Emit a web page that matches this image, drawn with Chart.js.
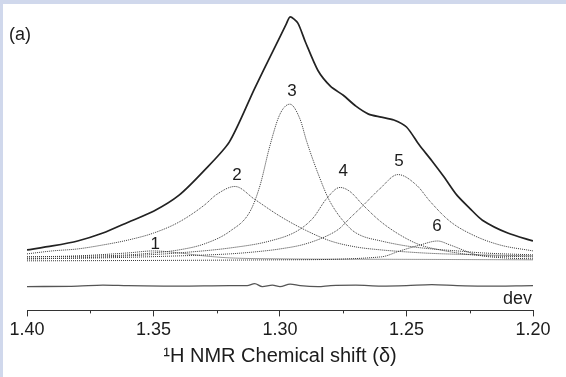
<!DOCTYPE html>
<html><head><meta charset="utf-8">
<script src="https://cdn.jsdelivr.net/npm/chart.js@4"></script>
<style>html,body{margin:0;padding:0;background:#fff;overflow:hidden}
#wrap{position:absolute;left:0;top:0;width:566px;height:377px}</style>
</head><body><div id="wrap"><canvas id="c" width="566" height="377"></canvas></div>
<script>
// ---- data (chemical shift δ, intensity a.u.) ----
const mainX = [1.40,1.39,1.38,1.37,1.36,1.35,1.34,1.33,1.32,1.31,1.3025,1.2975,1.296,1.293,1.29,1.285,1.28,1.275,1.27,1.265,1.26,1.255,1.25,1.245,1.24,1.235,1.23,1.225,1.22,1.21,1.20];
const mainY = [11,15,20,28,39,50,66,91,120,174,213,239,246,240,221,192,176,167,156,148,145,142,135,117,101,84,66,53,41,28,20];

const comp1X = [1.40,1.38,1.36,1.35,1.34,1.33,1.32,1.30,1.25,1.20];
const comp1Y = [4,5,8,10,8,5,3,2,1.5,1];

const comp2X = [1.40,1.39,1.38,1.37,1.36,1.35,1.34,1.33,1.325,1.3178,1.31,1.30,1.29,1.28,1.27,1.26,1.25,1.24,1.22,1.20];
const comp2Y = [7,10,12,16,21,28,39,56,67,75,62,45,31,20,14,11,9,7.5,6,5];

const comp3X = [1.40,1.38,1.36,1.35,1.34,1.33,1.3197,1.3118,1.3079,1.304,1.30,1.2961,1.2921,1.2894,1.2842,1.2803,1.2724,1.2684,1.26,1.25,1.24,1.23,1.22,1.20];
const comp3Y = [4,4.5,6,8,11,17,30,50,76,116,148,158,143,120,83,60,33,26,20,15,12,10,8,6];

const comp4X = [1.40,1.38,1.36,1.34,1.3197,1.304,1.2933,1.287,1.2815,1.2763,1.2724,1.2671,1.2604,1.2525,1.2446,1.2367,1.2237,1.20];
const comp4Y = [2,3,5,8,13,20,30,43,63,74,70,56,40,26,16,11,6,4];

const comp5X = [1.40,1.37,1.34,1.32,1.31,1.30,1.29,1.28,1.2763,1.2724,1.2671,1.2604,1.2534,1.2459,1.2407,1.2329,1.2237,1.2131,1.20];
const comp5Y = [2,3,5,7,9,12,17,27,33,43,56,73,87,76,60,40,26,16,10];

const comp6X = [1.40,1.30,1.26,1.2526,1.2446,1.2377,1.2328,1.2221,1.2115,1.20];
const comp6Y = [0,1,4,10,16,20,16,6,3,2];

const devX = [1.40,1.38,1.37,1.36,1.34,1.32,1.313,1.310,1.307,1.303,1.300,1.296,1.292,1.285,1.28,1.27,1.26,1.25,1.24,1.23,1.22,1.20];
const devY = [-26,-25.5,-24.5,-25,-25.5,-25,-25,-23,-26,-24.5,-26,-23.5,-25,-26,-25,-24.5,-25.5,-25,-24,-25,-25.5,-25];

const peakLabels = ['1','2','3','4','5','6'];
const labelX = [1.3493,1.317,1.2953,1.275,1.253,1.238];
const labelY = [17,86,171,90,100,35];

const majorTicks = [1.40,1.35,1.30,1.25,1.20];
const minorTicks = [1.375,1.325,1.275,1.225];
const axisTitle = '\u00B9H NMR Chemical shift (\u03B4)';
const panelLabel = '(a)';
const devLabel = 'dev';
const devLabelY = -39;

// ---- build ----
const pts = (xs, ys) => xs.map((x, i) => ({x, y: ys[i]}));
const FONT = "'Liberation Sans', Arial, Helvetica, sans-serif";
const TXT = '#1c1c1c';
const dotted = (xs, ys) => ({data: pts(xs, ys), borderColor: '#383838', borderWidth: 1, borderDash: [1, 1],
  pointRadius: 0, fill: false, cubicInterpolationMode: 'monotone'});

const decor = {
  id: 'decor',
  beforeDraw(chart) {
    const c = chart.ctx;
    c.save();
    c.fillStyle = '#fff'; c.fillRect(0, 0, chart.width, chart.height);
    c.fillStyle = '#d0d8ec';
    c.fillRect(0, 0, chart.width, 4);
    c.fillRect(0, 0, 3, chart.height);
    c.restore();
  },
  afterDraw(chart) {
    const c = chart.ctx, xs = chart.scales.x, ys = chart.scales.y, a = chart.chartArea;
    c.save();
    c.strokeStyle = '#333'; c.lineWidth = 1;
    minorTicks.forEach(v => {
      const px = Math.round(xs.getPixelForValue(v)) + 0.5;
      c.beginPath(); c.moveTo(px, a.bottom); c.lineTo(px, a.bottom + 3); c.stroke();
    });
    c.fillStyle = TXT;
    c.font = '17px ' + FONT; c.textAlign = 'center'; c.textBaseline = 'middle';
    peakLabels.forEach((t, i) => c.fillText(t, xs.getPixelForValue(labelX[i]), ys.getPixelForValue(labelY[i])));
    c.font = '18px ' + FONT; c.textAlign = 'left';
    c.fillText(panelLabel, 9, 35);
    c.textAlign = 'right';
    c.fillText(devLabel, a.right - 1, ys.getPixelForValue(devLabelY));
    c.restore();
  }
};

new Chart(document.getElementById('c'), {
  type: 'line',
  data: {datasets: [
    dotted(comp1X, comp1Y), dotted(comp2X, comp2Y), dotted(comp3X, comp3Y),
    dotted(comp4X, comp4Y), dotted(comp5X, comp5Y), dotted(comp6X, comp6Y),
    {data: pts(devX, devY), borderColor: '#555', borderWidth: 1.3, pointRadius: 0, cubicInterpolationMode: 'monotone'},
    {data: pts(mainX, mainY), borderColor: '#222', borderWidth: 1.7, pointRadius: 0, tension: 0.25}
  ]},
  options: {
    responsive: false, animation: false, devicePixelRatio: 1,
    layout: {padding: {left: 27, right: 33, top: 10, bottom: 9}},
    plugins: {legend: {display: false}, tooltip: {enabled: false}},
    scales: {
      x: {type: 'linear', reverse: true, min: 1.20, max: 1.40,
        border: {display: true, color: '#333', width: 1},
        grid: {display: true, drawOnChartArea: false, drawTicks: true, tickLength: 6, color: '#333'},
        afterBuildTicks: s => { s.ticks = majorTicks.map(v => ({value: v})); },
        ticks: {font: {family: FONT, size: 18}, color: TXT, padding: 3, maxRotation: 0,
          callback: v => Number(v).toFixed(2)},
        title: {display: true, text: axisTitle, color: TXT, font: {family: FONT, size: 20}, padding: {top: 0, bottom: 0}}
      },
      y: {display: false, min: -50, max: 253}
    }
  },
  plugins: [decor]
});
</script></body></html>
